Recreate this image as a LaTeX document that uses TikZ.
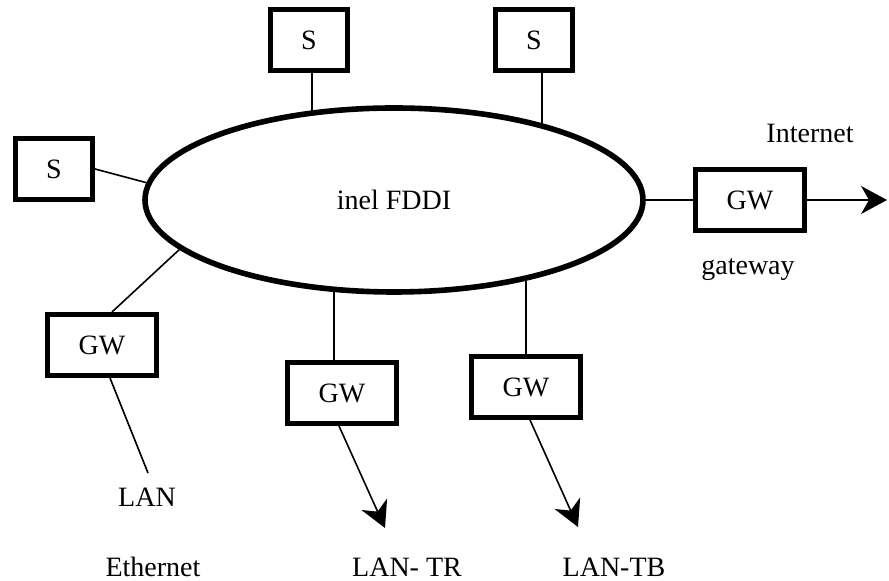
\documentclass[tikz,border=0pt]{standalone}
\usepackage{fontspec}
\setmainfont{Liberation Serif}
\usetikzlibrary{arrows.meta,shapes.geometric}

\begin{document}
\begin{tikzpicture}[x=0.5pt,y=-0.5pt,
  every node/.style={font=\fontsize{14}{16}\selectfont},
  station/.style={draw,rectangle,line width=2.5pt,minimum width=38.5pt,minimum height=30.5pt,inner sep=0pt},
  gwbox/.style={station,minimum width=54.5pt},
  ringshape/.style={draw,ellipse,line width=2.8pt,minimum width=249pt,minimum height=92pt,inner sep=0pt},
  link/.style={line width=0.8pt},
  outlink/.style={link,-{Stealth[length=13pt,width=14pt,inset=4pt]}},
  caption/.style={inner sep=0pt}
]
\useasboundingbox (0,0) rectangle (889,581);

% FDDI ring
\node[ringshape] (ring) at (394,200) {inel FDDI};

% stations
\node[station] (s1) at (309,40) {S};
\node[station] (s2) at (534,40) {S};
\node[station] (s3) at (54,169) {S};

% gateways
\node[gwbox] (gwe) at (750,200) {GW};
\node[gwbox] (gwl) at (102,345) {GW};
\node[gwbox] (gwm) at (342,393) {GW};
\node[gwbox] (gwr) at (526,387) {GW};

% station attachments
\draw[link] ([xshift=1.5pt]s1.south) -- ([xshift=1.5pt]s1.south |- ring.133);
\draw[link] ([xshift=4pt]s2.south) -- ([xshift=4pt]s2.south |- ring.28);
\draw[link] (s3.east) -- (ring.176);

% gateway attachments
\draw[link] (ring.east) -- (gwe.west);
\draw[link] ([xshift=5pt]gwl.north) -- (ring.193);
\draw[link] ([xshift=-4pt]gwm.north) -- ([xshift=-4pt]gwm.north |- ring.237);
\draw[link] (gwr.north) -- (gwr.north |- ring.328);

% outgoing links
\coordinate (inet) at (887,200);
\coordinate (lanend) at (148,473);
\coordinate (trend) at (385,528);
\coordinate (tbend) at (578,527);
\draw[outlink] (gwe.east) -- (inet);
\draw[link] ([xshift=4pt]gwl.south) -- (lanend);
\draw[outlink] ([xshift=-1.5pt]gwm.south) -- (trend);
\draw[outlink] ([xshift=2pt]gwr.south) -- (tbend);

% labels
\node[caption] (linet) at (810,133) {Internet};
\node[caption] (lgw) at (748,270) {gateway};
\node[caption] (llan) at (147,497) {LAN};
\node[caption] (leth) at (153,567) {Ethernet};
\node[caption] (ltr) at (407,567) {LAN- TR};
\node[caption] (ltb) at (614,567) {LAN-TB};
\end{tikzpicture}
\end{document}
